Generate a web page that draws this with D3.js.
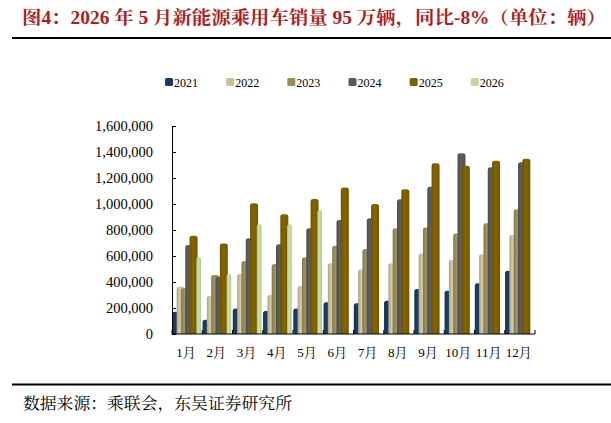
<!DOCTYPE html>
<meta charset="utf-8">
<style>
body { margin: 0; background: #fff; }
svg { display: block; }
.axis text { font-family: "Liberation Serif", "Times New Roman", serif; font-size: 14.5px; fill: #000; }
.axis path, .axis line { stroke: #000; }
.legend text { font-family: "Liberation Serif", serif; font-size: 12px; fill: #000; }
</style>
<svg width="611" height="423"></svg>
<script src="https://cdn.jsdelivr.net/npm/d3@7"></script>
<script>
// 月份、年份、各年月销量（辆）
var months = ['1月', '2月', '3月', '4月', '5月', '6月', '7月', '8月', '9月', '10月', '11月', '12月'];
var years = ['2021', '2022', '2023', '2024', '2025', '2026'];
var yTicks = [0, 200000, 400000, 600000, 800000, 1000000, 1200000, 1400000, 1600000];

var s2021 = [172000, 110000, 197000, 177000, 197000, 244000, 236000, 256000, 346000, 333000, 390000, 487000];
var s2022 = [364000, 292000, 462000, 300000, 369000, 544000, 497000, 544000, 620000, 569000, 613000, 762000];
var s2023 = [351000, 454000, 562000, 538000, 590000, 679000, 654000, 813000, 820000, 774000, 851000, 959000];
var s2024 = [685000, 441000, 736000, 690000, 813000, 877000, 890000, 1036000, 1133000, 1390000, 1282000, 1321000];
var s2025 = [756000, 697000, 1005000, 921000, 1038000, 1126000, 1000000, 1113000, 1313000, 1295000, 1333000, 1349000];
var s2026 = [592000, 462000, 846000, 846000, 954000];

var colors = {
  '2021': '#1b3a63',
  '2022': '#c8c09a',
  '2023': '#978c58',
  '2024': '#5a5a5a',
  '2025': '#7f6000',
  '2026': '#c4d79b'
};

var seriesData = {
  '2021': s2021, '2022': s2022, '2023': s2023,
  '2024': s2024, '2025': s2025, '2026': s2026
};

var svgElem = d3.select('svg');
var margin = { top: 126, left: 172, bottom: 89, right: 76 };
var width = +svgElem.attr('width') - margin.left - margin.right;
var height = +svgElem.attr('height') - margin.top - margin.bottom;

// 标题
svgElem.append('text')
  .attr('x', 22)
  .attr('y', 24)
  .attr('textLength', 584)
  .attr('lengthAdjust', 'spacingAndGlyphs')
  .style('font-family', '"Liberation Serif", "Noto Serif CJK SC", "Noto Sans CJK SC", serif')
  .style('font-weight', 'bold')
  .style('font-size', '18px')
  .style('fill', '#b01c22')
  .text('图4：2026 年 5 月新能源乘用车销量 95 万辆，同比-8%（单位：辆）');

svgElem.append('line')
  .attr('x1', 12).attr('x2', 611)
  .attr('y1', 38).attr('y2', 38)
  .attr('stroke', '#000').attr('stroke-width', 2);

svgElem.append('line')
  .attr('x1', 12).attr('x2', 611)
  .attr('y1', 384.5).attr('y2', 384.5)
  .attr('stroke', '#000').attr('stroke-width', 1.8);

svgElem.append('text')
  .attr('x', 23)
  .attr('y', 409)
  .attr('textLength', 269)
  .attr('lengthAdjust', 'spacingAndGlyphs')
  .style('font-family', '"Noto Serif CJK SC", "Noto Sans CJK SC", serif')
  .style('font-size', '16px')
  .style('fill', '#000')
  .text('数据来源：乘联会，东吴证券研究所');

// 柱子渐变（圆柱效果）
var defs = svgElem.append('defs');
years.forEach(function (yr) {
  var c = d3.color(colors[yr]);
  var grad = defs.append('linearGradient')
    .attr('id', 'grad' + yr)
    .attr('x1', '0%').attr('x2', '100%')
    .attr('y1', '0%').attr('y2', '0%');
  grad.append('stop').attr('offset', '0%').attr('stop-color', c.darker(0.4));
  grad.append('stop').attr('offset', '40%').attr('stop-color', c.brighter(0.15));
  grad.append('stop').attr('offset', '100%').attr('stop-color', c.darker(0.25));
});

var g = svgElem.append('g')
  .attr('transform', 'translate(' + margin.left + ',' + margin.top + ')');

var x0 = d3.scaleBand().domain(months).range([0, width]).padding(0);
// 前五年柱子错位重叠，2026 紧贴 2025 右侧
var x1 = d3.scaleBand().domain(years.slice(0, 5)).range([0.3, 21.9]);
var y = d3.scaleLinear().domain([0, 1600000]).range([height, 0]);

function barX(yr, i) {
  if (yr === '2026') return x0(months[i]) + x1('2025') + 6.7;
  return x0(months[i]) + x1(yr);
}
function barW(yr) {
  return yr === '2026' ? 4.7 : 8;
}

function barPath(x, top, w, bottom) {
  var r = Math.min(2.5, w / 2, (bottom - top) / 2);
  return 'M' + x + ',' + bottom +
    'V' + (top + r) +
    'Q' + x + ',' + top + ' ' + (x + r) + ',' + top +
    'H' + (x + w - r) +
    'Q' + (x + w) + ',' + top + ' ' + (x + w) + ',' + (top + r) +
    'V' + bottom + 'Z';
}

years.forEach(function (yr) {
  var vals = seriesData[yr];
  g.selectAll('.bar-' + yr)
    .data(vals)
    .enter()
    .append('path')
    .attr('class', 'bar-' + yr)
    .attr('fill', 'url(#grad' + yr + ')')
    .attr('d', function (d, i) {
      return barPath(barX(yr, i), y(d), barW(yr), height);
    });
});

// y 轴
var yAxis = g.append('g')
  .attr('class', 'axis')
  .call(d3.axisLeft(y)
    .tickValues(yTicks)
    .tickSizeInner(-4)
    .tickSizeOuter(-4)
    .tickPadding(19)
    .tickFormat(d3.format(',')));

// x 轴：刻度在月份边界，向上
var xAxis = g.append('g')
  .attr('class', 'axis')
  .attr('transform', 'translate(0,' + height + ')');

xAxis.append('line')
  .attr('x1', 0).attr('x2', width)
  .attr('y1', 0).attr('y2', 0)
  .attr('stroke', '#000');

xAxis.selectAll('.xtick')
  .data(months.concat(['end']))
  .enter()
  .append('line')
  .attr('x1', function (d, i) { return i < months.length ? x0(d) : width; })
  .attr('x2', function (d, i) { return i < months.length ? x0(d) : width; })
  .attr('y1', 0).attr('y2', -4)
  .attr('stroke', '#000');

xAxis.selectAll('.xlabel')
  .data(months)
  .enter()
  .append('text')
  .attr('x', function (d) { return x0(d) + x0.bandwidth() / 2 - 1; })
  .attr('y', 23)
  .attr('text-anchor', 'middle')
  .style('font-family', '"Liberation Serif", "Noto Serif CJK SC", "Noto Sans CJK SC", serif')
  .style('font-size', '13px')
  .text(function (d) { return d; });

// 图例
var legend = svgElem.append('g').attr('class', 'legend');
var lx = d3.scaleBand().domain(years).range([165, 532]);
var items = legend.selectAll('g')
  .data(years)
  .enter()
  .append('g')
  .attr('transform', function (d) { return 'translate(' + lx(d) + ',78)'; });

items.append('rect')
  .attr('width', 8).attr('height', 8)
  .attr('rx', 1.5)
  .attr('fill', function (d) { return colors[d]; });

items.append('text')
  .attr('x', 9)
  .attr('y', 8.5)
  .text(function (d) { return d; });
</script>
